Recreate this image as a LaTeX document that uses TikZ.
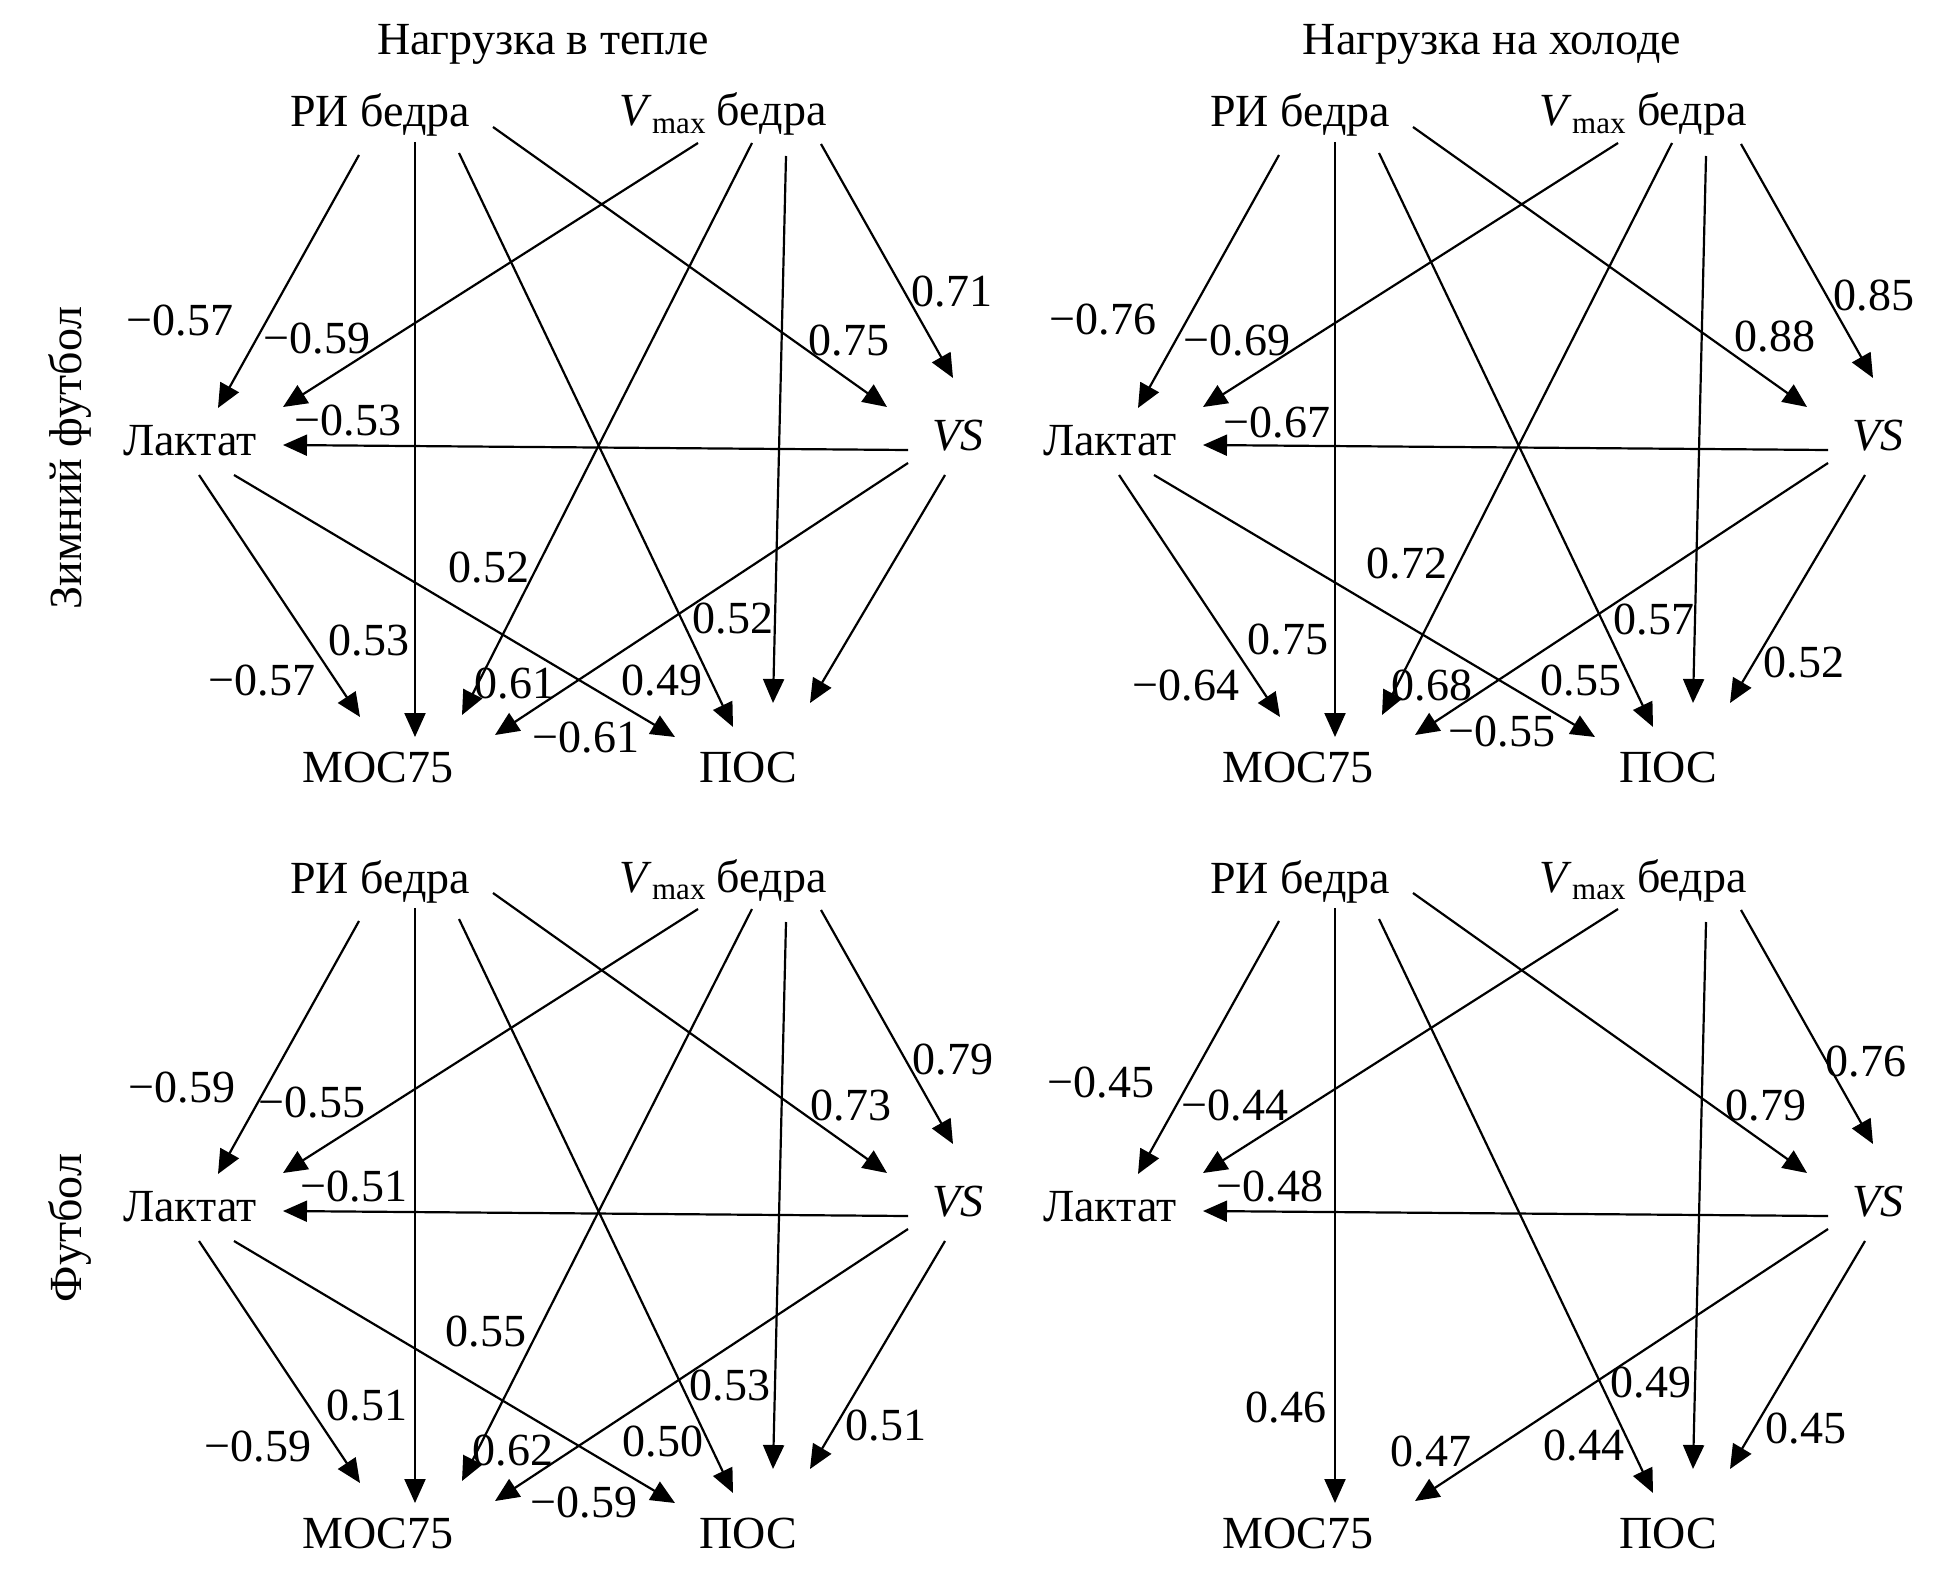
\documentclass[tikz,border=0pt]{standalone}
\usepackage{fontspec}
\setmainfont{Liberation Serif}
\usetikzlibrary{arrows.meta}
\newcommand\fs{\fontsize{23}{27}\selectfont}
\newcommand\panelnodes{%
 \node[vname] (ri) at (380,127) {РИ бедра};
 \node[vname] (vm) at (723,126) {\textit{V}\raisebox{-0.16em}{\fontsize{15.5}{16}\selectfont max} бедра};
 \node[vname] (lak) at (190,455) {Лактат};
 \node[vname] (vs) at (958,450) {\textit{VS}};
 \node[vname] (moc) at (378,782) {МОС75};
 \node[vname] (pos) at (748,782) {ПОС};
}
\newcommand\cedge[4]{\draw[arr] ([shift={(#2)}]#1.base) -- ([shift={(#4)}]#3.base);}
\newcommand\paneledges{%
 \cedge{ri}{-21,28}{lak}{28,-47}
 \cedge{vm}{-25,17}{lak}{93,-48}
 \cedge{vs}{-50,0}{lak}{93,-10}
 \cedge{ri}{113,0}{vs}{-71,-43}
 \cedge{vm}{98,18}{vs}{-5,-72}
 \cedge{ri}{35,15}{moc}{37,-45}
 \cedge{ri}{79,26}{pos}{-15,-55}
 \cedge{vm}{63,30}{pos}{25,-79}
 \cedge{vs}{-50,13}{moc}{117,-47}
 \cedge{vs}{-13,25}{pos}{62,-79}
}
\newcommand\panelextra{%
 \cedge{vm}{29,17}{moc}{84,-67}
 \cedge{lak}{9,20}{moc}{-18,-65}
 \cedge{lak}{44,20}{pos}{-73,-45}
}
\newcommand\lab[3]{\node[lbl] (#1) at (#2) {#3};}
\begin{document}
\begin{tikzpicture}[x=0.5pt,y=-0.5pt,
  lbl/.style={inner sep=0pt, anchor=base, font=\fs},
  vname/.style={inner sep=0pt, anchor=base, font=\fs},
  rowname/.style={inner sep=0pt, rotate=90, font=\fs},
  arr/.style={-{Triangle[length=12pt,width=10.5pt]}, line width=1.1pt}]
\useasboundingbox (0,0) rectangle (1941,1578);
\fill[white] (0,0) rectangle (1941,1578);

\node[lbl] (t1) at (543,55) {Нагрузка в тепле};
\node[lbl] (t2) at (1492,55) {Нагрузка на холоде};
\node[rowname] (r1) at (70,458) {Зимний футбол};
\node[rowname] (r2) at (70,1228) {Футбол};

\begin{scope}[name prefix=a-]
 \panelnodes\paneledges\panelextra
\end{scope}
\begin{scope}[shift={(920,0)},name prefix=b-]
 \panelnodes\paneledges\panelextra
\end{scope}
\begin{scope}[shift={(0,766)},name prefix=c-]
 \panelnodes\paneledges\panelextra
\end{scope}
\begin{scope}[shift={(920,766)},name prefix=d-]
 \panelnodes\paneledges
\end{scope}

% panel 1 labels
\lab{a1}{180,335}{−0.57}
\lab{a2}{317,353}{−0.59}
\lab{a3}{348,435}{−0.53}
\lab{a4}{849,355}{0.75}
\lab{a5}{952,306}{0.71}
\lab{a6}{489,582}{0.52}
\lab{a7}{733,633}{0.52}
\lab{a8}{369,655}{0.53}
\lab{a9}{262,695}{−0.57}
\lab{a10}{515,698}{0.61}
\lab{a11}{662,695}{0.49}
\lab{a12}{586,752}{−0.61}
% panel 2 labels
\lab{b1}{1103,334}{−0.76}
\lab{b2}{1237,355}{−0.69}
\lab{b3}{1277,437}{−0.67}
\lab{b4}{1775,351}{0.88}
\lab{b5}{1874,310}{0.85}
\lab{b6}{1407,578}{0.72}
\lab{b7}{1654,634}{0.57}
\lab{b8}{1288,654}{0.75}
\lab{b9}{1186,700}{−0.64}
\lab{b10}{1432,700}{0.68}
\lab{b11}{1581,695}{0.55}
\lab{b12}{1502,746}{−0.55}
\lab{b13}{1804,677}{0.52}
% panel 3 labels
\lab{c1}{182,1102}{−0.59}
\lab{c2}{312,1117}{−0.55}
\lab{c3}{354,1201}{−0.51}
\lab{c4}{851,1120}{0.73}
\lab{c5}{953,1074}{0.79}
\lab{c6}{486,1346}{0.55}
\lab{c7}{730,1400}{0.53}
\lab{c8}{367,1420}{0.51}
\lab{c9}{258,1461}{−0.59}
\lab{c10}{513,1465}{0.62}
\lab{c11}{663,1456}{0.50}
\lab{c12}{584,1517}{−0.59}
\lab{c13}{886,1440}{0.51}
% panel 4 labels
\lab{d1}{1101,1097}{−0.45}
\lab{d2}{1235,1120}{−0.44}
\lab{d3}{1270,1201}{−0.48}
\lab{d4}{1766,1120}{0.79}
\lab{d5}{1866,1076}{0.76}
\lab{d6}{1286,1422}{0.46}
\lab{d7}{1651,1397}{0.49}
\lab{d8}{1431,1466}{0.47}
\lab{d9}{1584,1460}{0.44}
\lab{d10}{1806,1443}{0.45}
\end{tikzpicture}
\end{document}
